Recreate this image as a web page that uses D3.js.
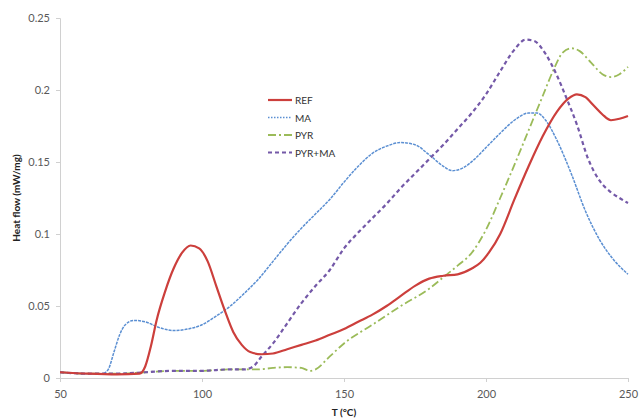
<!DOCTYPE html>
<html>
<head>
<meta charset="utf-8">
<script src="https://cdn.jsdelivr.net/npm/d3@7"></script>
<style>
  body { margin: 0; background: #fff; }
  svg text { font-family: Lato, "Open Sans", sans-serif; }
</style>
</head>
<body>
<div id="chart"></div>
<script>

// temperature (°C) / heat flow (mW/mg)
var refT = [50, 60, 70, 78, 80, 82, 84, 87, 90, 93, 96, 99, 102, 105, 108, 111, 114, 117, 121, 125, 130, 135, 140, 145, 150, 155, 160, 165, 170, 175, 180, 185, 190, 195, 198, 201, 205, 210, 215, 220, 225, 229, 232, 235, 238, 241, 244, 247, 250];
var refV = [0.004, 0.003, 0.0025, 0.003, 0.008, 0.022, 0.040, 0.060, 0.076, 0.087, 0.092, 0.090, 0.081, 0.064, 0.047, 0.032, 0.023, 0.018, 0.0165, 0.017, 0.020, 0.023, 0.026, 0.030, 0.034, 0.039, 0.044, 0.050, 0.057, 0.064, 0.069, 0.071, 0.072, 0.076, 0.080, 0.087, 0.100, 0.124, 0.147, 0.168, 0.185, 0.194, 0.197, 0.195, 0.189, 0.183, 0.179, 0.180, 0.182];

var maT = [50, 60, 65, 67, 69, 71, 73, 76, 80, 85, 90, 95, 100, 105, 110, 115, 120, 125, 130, 135, 140, 145, 150, 155, 160, 165, 170, 175, 180, 185, 188, 192, 196, 200, 205, 210, 215, 218, 221, 225, 230, 235, 240, 245, 250];
var maV = [0.004, 0.003, 0.003, 0.006, 0.018, 0.030, 0.037, 0.040, 0.039, 0.035, 0.033, 0.034, 0.037, 0.043, 0.050, 0.059, 0.069, 0.081, 0.093, 0.104, 0.114, 0.124, 0.136, 0.147, 0.156, 0.161, 0.1635, 0.162, 0.155, 0.147, 0.144, 0.146, 0.152, 0.160, 0.170, 0.179, 0.184, 0.184, 0.179, 0.165, 0.142, 0.116, 0.096, 0.082, 0.072];

var pyrT = [50, 60, 70, 80, 90, 100, 110, 120, 125, 130, 135, 138, 140, 145, 150, 160, 170, 180, 185, 190, 195, 200, 205, 210, 215, 220, 224, 227, 230, 233, 237, 241, 244, 247, 250];
var pyrV = [0.004, 0.003, 0.003, 0.004, 0.005, 0.005, 0.006, 0.006, 0.007, 0.0075, 0.007, 0.005, 0.006, 0.015, 0.024, 0.037, 0.050, 0.062, 0.070, 0.078, 0.087, 0.103, 0.125, 0.148, 0.172, 0.196, 0.215, 0.226, 0.229, 0.227, 0.219, 0.211, 0.209, 0.211, 0.216];

var pmT = [50, 60, 70, 80, 90, 100, 110, 115, 118, 121, 125, 130, 135, 140, 145, 150, 155, 160, 165, 170, 175, 180, 185, 190, 195, 200, 205, 210, 214, 217, 221, 225, 228, 232, 236, 240, 244, 247, 250];
var pmV = [0.004, 0.003, 0.003, 0.004, 0.005, 0.005, 0.006, 0.006, 0.008, 0.015, 0.024, 0.038, 0.052, 0.064, 0.075, 0.090, 0.101, 0.111, 0.121, 0.132, 0.142, 0.152, 0.162, 0.173, 0.184, 0.197, 0.213, 0.228, 0.235, 0.234, 0.225, 0.210, 0.196, 0.176, 0.152, 0.137, 0.129, 0.125, 0.1215];

var seriesNames = ["REF", "MA", "PYR", "PYR+MA"];
var xTicks = [50, 100, 150, 200, 250];
var yTicks = [0, 0.05, 0.1, 0.15, 0.2, 0.25];

var w = 639, h = 418;
var plotLeft = 60, plotRight = 628, plotTop = 18, plotBottom = 378;

var svg = d3.select("#chart").append("svg")
    .attr("width", w)
    .attr("height", h);

var x = d3.scaleLinear().domain([50, 250]).range([plotLeft, plotRight]);
var y = d3.scaleLinear().domain([0, 0.25]).range([plotBottom, plotTop]);

// axes
var xAxis = svg.append("g")
    .attr("transform", "translate(0," + plotBottom + ")")
    .call(d3.axisBottom(x).tickValues(xTicks).tickSize(4).tickPadding(8));

var yAxis = svg.append("g")
    .attr("transform", "translate(" + plotLeft + ",0)")
    .call(d3.axisLeft(y).tickValues(yTicks).tickSize(4).tickPadding(6)
        .tickFormat(function(d) { return d === 0 ? "0" : String(+d.toFixed(2)); }));

[xAxis, yAxis].forEach(function(g) {
    g.select(".domain").attr("stroke", "#d0d0d0");
    g.selectAll(".tick line").attr("stroke", "#d0d0d0");
    g.selectAll(".tick text")
        .attr("fill", "#595959")
        .attr("font-size", "11px");
});

svg.append("text")
    .text("T (°C)")
    .attr("x", (plotLeft + plotRight) / 2)
    .attr("y", 416)
    .attr("text-anchor", "middle")
    .attr("font-size", "10px")
    .attr("font-weight", "bold")
    .attr("fill", "#222");

svg.append("text")
    .text("Heat flow (mW/mg)")
    .attr("transform", "translate(20,198) rotate(-90)")
    .attr("text-anchor", "middle")
    .attr("font-size", "10px")
    .attr("font-weight", "bold")
    .attr("fill", "#222");

// series
var styles = [
    {color: "#cc3f3c", width: 2.2, dash: null},
    {color: "#5b8fd2", width: 1.5, dash: "3,1"},
    {color: "#9bbb59", width: 1.8, dash: "8,3,2,3"},
    {color: "#7459a8", width: 2.2, dash: "4,3"}
];
var allT = [refT, maT, pyrT, pmT];
var allV = [refV, maV, pyrV, pmV];

var line = d3.line()
    .x(function(d) { return x(d[0]); })
    .y(function(d) { return y(d[1]); })
    .curve(d3.curveMonotoneX);

// draw order: PYR, MA, PYR+MA, REF
[2, 1, 3, 0].forEach(function(i) {
    var pts = allT[i].map(function(t, j) { return [t, allV[i][j]]; });
    svg.append("path")
        .datum(pts)
        .attr("d", line)
        .attr("fill", "none")
        .attr("stroke", styles[i].color)
        .attr("stroke-width", styles[i].width)
        .attr("stroke-dasharray", styles[i].dash);
});

// legend
var legend = svg.append("g");
seriesNames.forEach(function(name, i) {
    var ly = 100 + i * 17.5;
    legend.append("line")
        .attr("x1", 268).attr("x2", 292)
        .attr("y1", ly).attr("y2", ly)
        .attr("stroke", styles[i].color)
        .attr("stroke-width", styles[i].width)
        .attr("stroke-dasharray", i == 1 ? "1.5,1.5" : styles[i].dash);
    legend.append("text")
        .text(name)
        .attr("x", 295)
        .attr("y", ly + 4)
        .attr("font-size", "10px")
        .attr("fill", "#333");
});

</script>
</body>
</html>
